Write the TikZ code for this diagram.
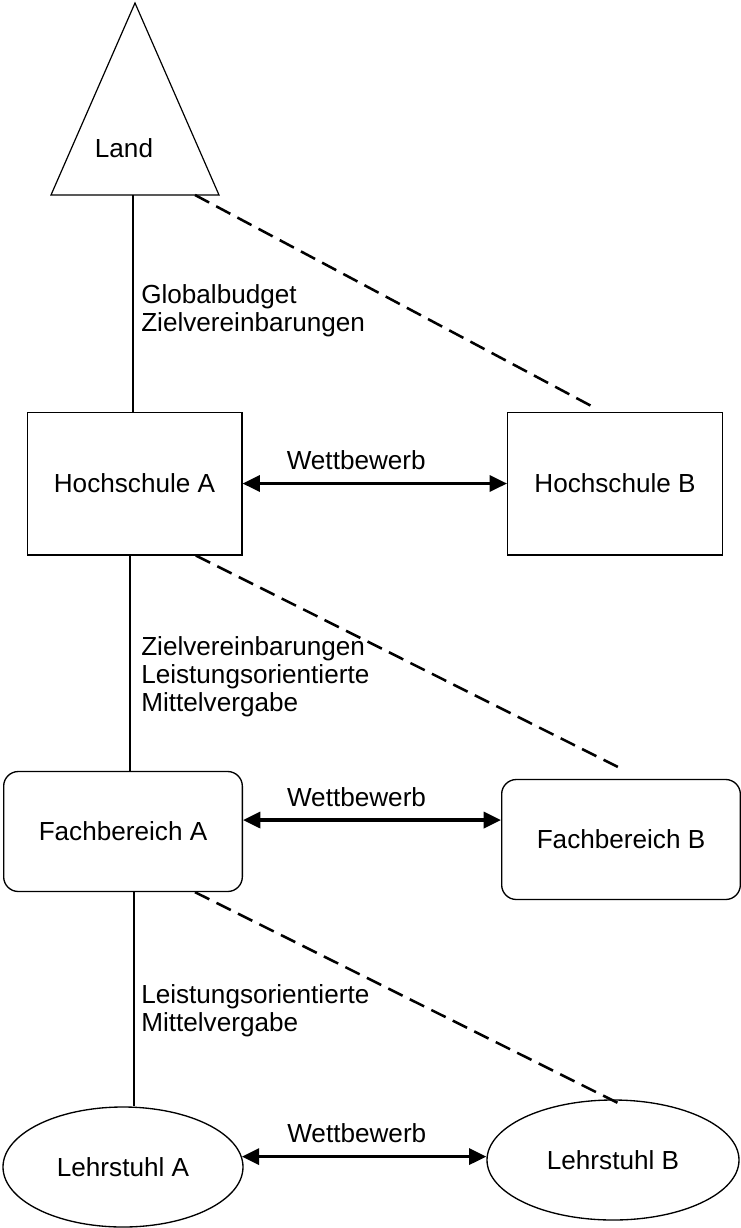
\documentclass[tikz,border=0pt]{standalone}
\usepackage{fontspec}
\setmainfont{Liberation Sans}
\usetikzlibrary{arrows.meta,shapes.geometric}

\begin{document}
\begin{tikzpicture}
  [x=0.75pt, y=-0.75pt,
  every node/.style={font=\fontsize{19.6pt}{21pt}\selectfont, inner sep=0pt},
  kasten/.style={draw, line width=1pt, minimum width=161pt, minimum height=107pt},
  rundkasten/.style={draw, line width=1pt, rounded corners=11pt, minimum width=179pt, minimum height=90pt},
  oval/.style={draw, ellipse, line width=1pt, minimum width=180pt, minimum height=90pt},
  linie/.style={line width=0.9pt},
  wettbewerb/.style={{Triangle[length=13pt,width=12pt]}-{Triangle[length=13pt,width=12pt]}, line width=2.5pt},
  gestrichelt/.style={line width=1.9pt, dash pattern=on 12pt off 6pt},
  notiz/.style={anchor=north west, align=left}]
\useasboundingbox (0,0) rectangle (740,1228);

% Land
\coordinate (spitze) at (135,3);
\coordinate (basisL) at (51,195);
\coordinate (basisR) at (219,195);
\draw[linie] (spitze) -- (basisR) -- (basisL) -- cycle;
\node (land) at (124,148) {Land};
\coordinate (landfuss) at (133,195);
\coordinate (landecke) at (195,195);

% Ebenen
\node[kasten] (hsA) at (134.5,483.5) {Hochschule A};
\node[kasten] (hsB) at (615,483.5) {Hochschule B};
\node[rundkasten] (fbA) at (123,831.5) {Fachbereich A};
\node[rundkasten] (fbB) at (621,839.5) {Fachbereich B};
\node[oval] (lsA) at (123,1167) {Lehrstuhl A};
\node[oval, minimum width=189pt] (lsB) at (613,1160) {Lehrstuhl B};

% Steuerung
\draw[linie] (landfuss) -- (landfuss |- hsA.north);
\draw[linie] ([xshift=-3.4pt]hsA.south) -- ([xshift=-3.4pt]hsA.south |- fbA.north);
\draw[linie] ([xshift=8.2pt]fbA.south) -- ([xshift=8.2pt]fbA.south |- lsA.north);
\node[notiz] (steuer1) at (141,284) {Globalbudget\\Zielvereinbarungen};
\node[notiz] (steuer2) at (141,636) {Zielvereinbarungen\\Leistungsorientierte\\Mittelvergabe};
\node[notiz] (steuer3) at (141,984) {Leistungsorientierte\\Mittelvergabe};

% Wettbewerb
\draw[wettbewerb] (hsA.east) -- node[pos=0.43, above=8.8pt] (wett1) {Wettbewerb} (hsB.west);
\draw[wettbewerb] ([yshift=8.6pt]fbA.east) -- node[pos=0.44, above=8.8pt] (wett2) {Wettbewerb} ([yshift=8.6pt]fbA.east -| fbB.west);
\draw[wettbewerb] (lsA.5) -- node[pos=0.47, above=8.8pt] (wett3) {Wettbewerb} (lsA.5 -| lsB.west);

% gestrichelt
\coordinate (ende1) at (597,409);
\coordinate (ende2) at (622,769);
\coordinate (ende3) at (622,1105);
\draw[gestrichelt] (landecke) -- (ende1);
\draw[gestrichelt] ([xshift=-35pt]hsA.south east) -- (ende2);
\draw[gestrichelt] ([xshift=-36pt]fbA.south east) -- (ende3);
\end{tikzpicture}
\end{document}
